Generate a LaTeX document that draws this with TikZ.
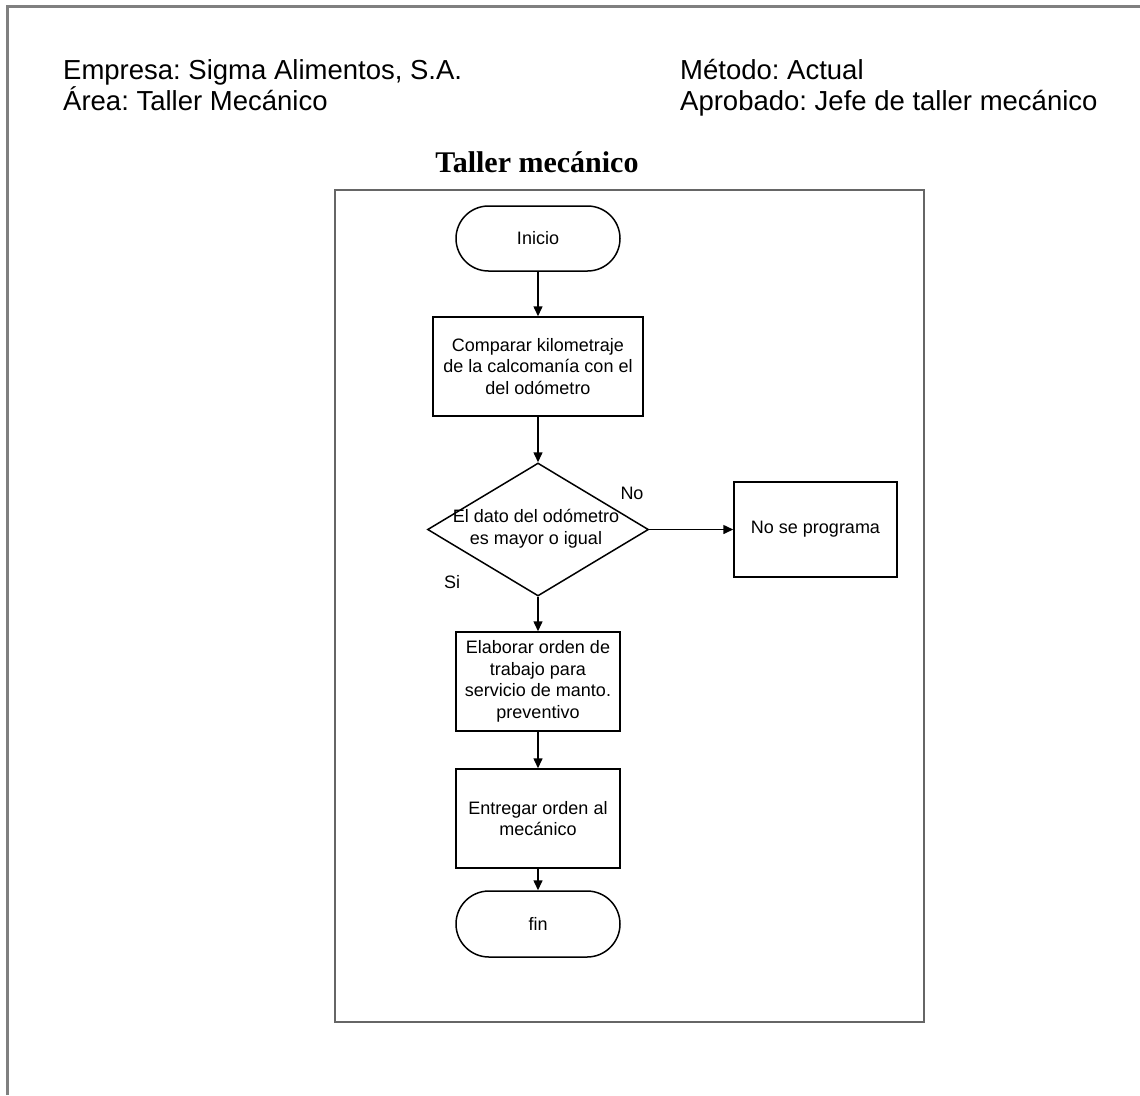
\documentclass[tikz,border=0pt]{standalone}
\usepackage{fontspec}
\setmainfont{Liberation Sans}
\newfontfamily\titlefont{Liberation Serif}
\usetikzlibrary{shapes.geometric,shapes.misc,arrows.meta}
\definecolor{framegray}{HTML}{808080}
\definecolor{innergray}{HTML}{666666}
\frenchspacing
\begin{document}
\begin{tikzpicture}[x=1pt,y=-1pt,
  header/.style={anchor=base west, inner sep=0pt, font=\fontsize{27.5}{31}\selectfont},
  flow/.style={draw=black, line width=1.5pt, inner sep=0pt, align=center,
     font=\fontsize{18}{21.5}\selectfont},
  procbox/.style={flow, rectangle},
  termbox/.style={flow, rounded rectangle, minimum width=164pt, minimum height=65pt},
  decbox/.style={draw=black, line width=1.5pt, diamond, inner sep=0pt,
     minimum width=221pt, minimum height=133pt},
  txt/.style={inner sep=0pt, align=center, font=\fontsize{18}{21.5}\selectfont},
  conn/.style={draw=black, line width=1.5pt, -{Triangle[length=10pt,width=9pt]}}
]
\useasboundingbox (0,0) rectangle (1140,1095);
% outer page frame
\coordinate (otl) at (7,6);
\coordinate (otr) at (1140,6);
\coordinate (obl) at (7,1095);
\draw[framegray, line width=3pt] (obl) -- (otl) -- (otr);

% header
\node[header] (empresa) at (63,79) {Empresa: Sigma Alimentos, S.A.};
\node[header] (area) at (63,110) {Área: Taller Mecánico};
\node[header] (metodo) at (680,79) {Método: Actual};
\node[header] (aprobado) at (680,110) {Aprobado: Jefe de taller mecánico};

% title
\node[anchor=base, inner sep=0pt, font=\titlefont\bfseries\fontsize{30}{34}\selectfont] (title) at (537,172) {Taller mecánico};

% inner frame
\node[draw=innergray, line width=2.5pt, rectangle, minimum width=589pt, minimum height=832pt, inner sep=0pt] (frame) at (629.5,606) {};

% flowchart
\node[termbox] (inicio) at (538,238.5) {Inicio};
\node[procbox, minimum width=210pt, minimum height=99pt] (comparar) at (538,366.5)
  {Comparar kilometraje\\de la calcomanía con el\\del odómetro};
\node[decbox] (dec) at (538,529.5) {};
\node[txt] (dectext) at (536,528.5) {El dato del odómetro\\es mayor o igual};
\node[procbox, minimum width=163pt, minimum height=95pt] (noprog) at (815.5,529.5) {No se programa};
\node[procbox, minimum width=164pt, minimum height=99pt] (elaborar) at (538,681.5)
  {Elaborar orden de\\trabajo para\\servicio de manto.\\preventivo};
\node[procbox, minimum width=164pt, minimum height=99pt] (entregar) at (538,818.5)
  {Entregar orden al\\mecánico};
\node[termbox, minimum height=66pt] (fin) at (538,924) {fin};

\node[txt, anchor=center] (nolbl) at (632,493) {No};
\node[txt, anchor=center] (silbl) at (452,582) {Si};

\draw[conn] (inicio.south) -- (comparar.north);
\draw[conn] (comparar.south) -- (dec.north);
\draw[conn] (dec.east) -- (noprog.west);
\draw[conn] (dec.south) -- (elaborar.north);
\draw[conn] (elaborar.south) -- (entregar.north);
\draw[conn] (entregar.south) -- (fin.north);
\end{tikzpicture}
\end{document}
